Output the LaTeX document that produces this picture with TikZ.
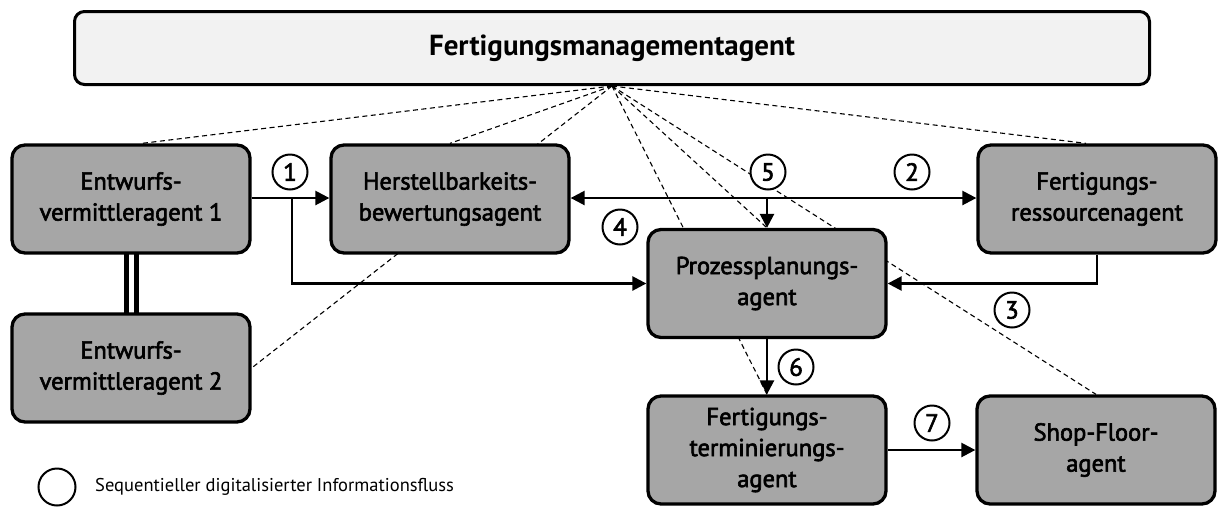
\documentclass[tikz,border=0pt]{standalone}
\usepackage{fontspec}
\setmainfont{PT Sans}
\newfontfamily\boxfont[FakeBold=2.5]{PT Sans}
\newfontfamily\titlefont{PT Sans}
\usetikzlibrary{arrows.meta,backgrounds,calc}

\definecolor{agentgray}{RGB}{166,166,166}
\definecolor{panelgray}{RGB}{242,242,242}

\begin{document}
\begin{tikzpicture}[x=1pt,y=-1pt,
  agent/.style={draw=black, line width=3.3pt, rounded corners=13pt,
    fill=agentgray, minimum width=238pt, minimum height=108pt,
    inner sep=0pt, align=center,
    font=\boxfont\fontsize{24.5}{31}\selectfont},
  manager/.style={draw=black, line width=3pt, rounded corners=10pt,
    fill=panelgray, minimum width=1075pt, minimum height=73pt,
    inner sep=0pt, font=\titlefont\bfseries\fontsize{29}{34}\selectfont},
  stepnum/.style={circle, draw=black, line width=2pt, fill=white,
    minimum size=35pt, inner sep=0pt,
    font=\boxfont\fontsize{25}{27}\selectfont},
  flow/.style={line width=2.5pt, -{Triangle[length=14pt,width=14pt]}},
  flowboth/.style={line width=2.5pt, {Triangle[length=14pt,width=14pt]}-{Triangle[length=14pt,width=14pt]}},
  link/.style={line width=1.1pt, dash pattern=on 5pt off 3.5pt},
]
\useasboundingbox (0,0) rectangle (1219,507);

% management agent across the top
\node[manager] (top) at (612,48) {Fertigungsmanagementagent};

% agents
\node[agent] (e1) at (131,199) {Entwurfs-\\vermittleragent 1};
\node[agent] (e2) at (131,368) {Entwurfs-\\vermittleragent 2};
\node[agent] (hb) at (450,199) {Herstellbarkeits-\\bewertungsagent};
\node[agent] (fr) at (1097,199) {Fertigungs-\\ressourcenagent};
\node[agent] (pp) at (767,283.5) {Prozessplanungs-\\agent};
\node[agent] (ft) at (767,450) {Fertigungs-\\terminierungs-\\agent};
\node[agent] (sf) at (1096,450) {Shop-Floor-\\agent};

% supervision links and coupling of the two design agents, behind the boxes
\begin{scope}[on background layer]
  \draw[link] (top.south) -- ($(e1.north)+(11,0)$);
  \draw[link] (top.south) -- (hb.north);
  \draw[link] (top.south) -- (e2.east);
  \draw[link] (top.south) -- (ft.north);
  \draw[link] (top.south) -- (pp.north);
  \draw[link] (top.south) -- (sf.north);
  \draw[link] (top.south) -- ($(fr.north)+(-11,0)$);
  \draw[line width=5pt, double=white, double distance=5pt] (e1.center) -- (e2.center);
\end{scope}

% information flow
\coordinate (split) at (292,198);
\draw[flow] (e1.east |- split) -- (hb.west |- split);
\draw[flow] (split) |- (pp.west);
\draw[flowboth] (hb.east |- split) -- (fr.west |- split);
\draw[flow] (pp.north |- split) -- (pp.north);
\draw[flow] (fr.south) |- (pp.east);
\draw[flow] (pp.south) -- (ft.north);
\draw[flow] (ft.east) -- (sf.west);

% step numbers
\node[stepnum] (n1) at (290,172) {1};
\node[stepnum] (n2) at (912,172) {2};
\node[stepnum] (n3) at (1012,310) {3};
\node[stepnum] (n4) at (620,227) {4};
\node[stepnum] (n5) at (768,172) {5};
\node[stepnum] (n6) at (796,367) {6};
\node[stepnum] (n7) at (932,423) {7};

% legend
\node[stepnum, minimum size=37pt] (leg) at (57,487) {};
\node[anchor=west, inner sep=0pt, font=\fontsize{18.5}{20}\selectfont] (legtext) at (95,487)
  {Sequentieller digitalisierter Informationsfluss};
\end{tikzpicture}
\end{document}
